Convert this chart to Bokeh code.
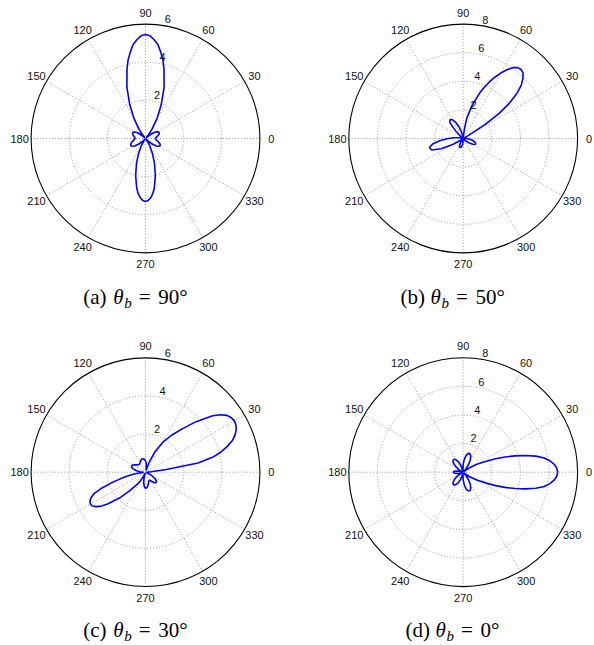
import numpy as np
from bokeh.plotting import figure
from bokeh.layouts import gridplot
from bokeh.models import Range1d
from bokeh.core.properties import value
from bokeh.embed import file_html
from bokeh.resources import INLINE

# ---------------- data ----------------
theta_a = [0, 5, 10, 15, 20, 25, 30, 35, 40, 45, 50, 55, 60, 65, 70, 75, 77.5, 80, 82.5, 85, 87.5,
           90, 92.5, 95, 97.5, 100, 102.5, 105, 110, 115, 120, 125, 130, 135, 140, 145, 150, 155, 160, 165, 170, 175,
           180, 185, 190, 195, 200, 205, 210, 215, 220, 225, 230, 235, 240, 245, 250, 255, 260, 262.5, 265, 267.5,
           270, 272.5, 275, 277.5, 280, 285, 290, 295, 300, 305, 310, 315, 320, 325, 330, 335, 340, 345, 350, 355]
r_a = [0.52, 0.55, 0.62, 0.70, 0.77, 0.78, 0.72, 0.55, 0.30, 0.05, 0.25, 0.60, 1.20, 1.95, 2.85, 3.75, 4.22, 4.60, 4.97, 5.20, 5.39,
       5.45, 5.39, 5.20, 4.97, 4.60, 4.22, 3.75, 2.85, 1.95, 1.20, 0.60, 0.25, 0.05, 0.30, 0.55, 0.68, 0.73, 0.72, 0.67, 0.61, 0.56,
       0.55, 0.58, 0.65, 0.74, 0.82, 0.86, 0.82, 0.68, 0.45, 0.20, 0.02, 0.15, 0.45, 0.85, 1.37, 2.00, 2.65, 2.92, 3.12, 3.25,
       3.30, 3.25, 3.12, 2.92, 2.65, 2.00, 1.37, 0.85, 0.45, 0.15, 0.02, 0.20, 0.45, 0.68, 0.82, 0.86, 0.80, 0.70, 0.60, 0.54]

theta_b = [0, 5, 10, 15, 20, 25, 27.5, 30, 32.5, 35, 37.5, 40, 42.5, 45, 47.5, 50, 52.5, 55, 57.5, 60,
           62.5, 65, 67.5, 70, 75, 80, 82.5, 85, 87.5, 90, 95, 100, 105, 110, 115, 120, 125, 130, 135, 140, 145,
           150, 155, 160, 165, 170, 175, 180, 185, 190, 195, 200, 205, 210, 215, 220, 225, 230, 235,
           240, 245, 250, 255, 260, 265, 270, 275, 280, 290, 300, 310, 315, 320, 325, 330, 335, 340,
           345, 350, 355]
r_b = [0.20, 0.05, 0.04, 0.07, 0.06, 0.03, 0.05, 0.40, 1.80, 3.10, 4.10, 4.90, 5.50, 5.90, 6.20, 6.30, 6.25, 6.05, 5.70, 5.30,
       4.85, 4.40, 3.90, 3.40, 2.40, 1.45, 0.70, 0.20, 0.05, 0.05, 0.10, 0.20, 0.50, 0.90, 1.25, 1.52, 1.62, 1.45, 0.75, 0.25, 0.05,
       0.06, 0.08, 0.06, 0.10, 0.30, 0.65, 1.05, 1.60, 2.15, 2.45, 2.35, 1.70, 0.85, 0.25, 0.05, 0.05, 0.10, 0.25,
       0.45, 0.60, 0.67, 0.65, 0.55, 0.38, 0.20, 0.06, 0.02, 0.04, 0.06, 0.10, 0.20, 0.35, 0.62, 0.85, 0.95, 0.92,
       0.80, 0.62, 0.42]

theta_c = [0, 2.5, 5, 7.5, 10, 12.5, 15, 17.5, 20, 22.5, 25, 27.5, 30, 32.5, 35, 37.5, 40, 45, 50, 55, 60, 65, 70, 75, 80, 85, 90, 95,
           100, 105, 110, 115, 120, 125, 130, 135, 140, 145, 150, 155, 160, 165, 170, 175, 180, 185,
           187.5, 190, 192.5, 195, 197.5, 200, 202.5, 205, 207.5, 210, 212.5, 215, 217.5, 220, 225, 230, 235, 240, 245, 250,
           255, 260, 265, 270, 275, 280, 285, 290, 295, 300, 305, 310, 315, 320, 325, 330, 335, 340,
           345, 350, 355]
r_c = [0.10, 0.15, 0.30, 1.10, 2.80, 3.60, 4.10, 4.50, 4.85, 5.08, 5.25, 5.35, 5.38, 5.33, 5.20, 4.95, 4.60, 3.75, 2.95, 2.35, 1.80, 1.20, 0.50, 0.10, 0.25, 0.45, 0.60, 0.68,
       0.72, 0.72, 0.68, 0.62, 0.57, 0.54, 0.53, 0.55, 0.60, 0.68, 0.76, 0.80, 0.78, 0.68, 0.50, 0.30, 0.12, 0.10,
       0.40, 0.70, 1.00, 1.40, 1.90, 2.45, 2.90, 3.15, 3.28, 3.34, 3.30, 3.15, 2.92, 2.60, 1.90, 1.25, 0.80, 0.50, 0.20, 0.05,
       0.30, 0.55, 0.75, 0.84, 0.82, 0.72, 0.60, 0.50, 0.46, 0.50, 0.60, 0.72, 0.78, 0.76, 0.62, 0.42, 0.22, 0.08,
       0.03, 0.05, 0.08]

theta_d = [0, 2.5, 5, 7.5, 10, 12.5, 15, 17.5, 20, 22.5, 25, 30, 35, 40, 45, 50, 55, 60, 65, 70, 75, 80, 85,
           90, 95, 100, 105, 110, 115, 120, 125, 130, 135, 140, 145, 150, 155, 160, 165, 170, 175,
           180, 185, 190, 195, 200, 205, 210, 215, 220, 225, 230, 235, 240, 245, 250, 255, 260, 265,
           270, 275, 280, 285, 290, 295, 300, 305, 310, 315, 320, 325, 330, 335, 337.5, 340, 342.5, 345, 347.5,
           350, 352.5, 355, 357.5]
r_d = [6.61, 6.55, 6.38, 6.12, 5.75, 5.20, 4.50, 3.80, 3.10, 2.45, 1.85, 1.10, 0.55, 0.15, 0.05, 0.30, 0.65, 1.00, 1.25, 1.38, 1.36, 1.20, 0.90,
       0.55, 0.20, 0.02, 0.25, 0.55, 0.82, 1.00, 1.10, 1.10, 1.00, 0.80, 0.55, 0.30, 0.08, 0.10, 0.30, 0.50, 0.65,
       0.70, 0.65, 0.50, 0.30, 0.10, 0.08, 0.30, 0.55, 0.80, 1.00, 1.10, 1.10, 1.00, 0.82, 0.55, 0.25, 0.02, 0.20,
       0.55, 0.90, 1.20, 1.36, 1.38, 1.25, 1.00, 0.65, 0.30, 0.05, 0.15, 0.55, 1.10, 1.85, 2.45, 3.10, 3.80, 4.50, 5.20,
       5.75, 6.12, 6.38, 6.55]

rmax_values = [6, 8, 6, 8]
ring_ticks = {6: [2, 4, 6], 8: [2, 4, 6, 8]}
angle_ticks = [0, 30, 60, 90, 120, 150, 180, 210, 240, 270, 300, 330]
spoke_angles = [0, 30, 60, 90, 120, 150]
panel_letters = ["(a)", "(b)", "(c)", "(d)"]
beam_angles = ["90°", "50°", "30°", "0°"]

# ---------------- layout ----------------
R = 114.4                 # pixels per normalised radius
W = [305, 287]            # column widths
H = [338, 306]            # row heights
CX = [145.0, 157.7]       # circle centre inside each column (px from left)
CY = [138.0, 133.7]       # circle centre inside each row (px from top)
CAP_LEFT = [-62.3, -62.7, -62.3, -57.7]
CAP_MID = [-158.0, -158.0, -157.5, -157.5]     # vertical middle of caption, px below centre
CAP_PARTS = [0.0, 30.0, 41.0, 55.5, 75.0]      # px offsets of caption pieces

SANS = value("Liberation Sans")
SERIF = value("Liberation Serif")
GRID_COLOR = "#9a9a9a"


def make_panel(idx, theta, rad):
    col, row = idx % 2, idx // 2
    w, h, cx, cy = W[col], H[row], CX[col], CY[row]
    rmax = rmax_values[idx]
    p = figure(width=w, height=h,
               x_range=Range1d(-cx / R, (w - cx) / R),
               y_range=Range1d(-(h - cy) / R, cy / R),
               output_backend="svg", toolbar_location=None,
               x_axis_type=None, y_axis_type=None, min_border=0)
    p.outline_line_color = None
    p.background_fill_color = "white"
    p.border_fill_color = "white"

    # spokes
    sa = np.deg2rad(np.array(spoke_angles, dtype=float))
    p.segment(x0=-np.cos(sa), y0=-np.sin(sa), x1=np.cos(sa), y1=np.sin(sa),
              line_color=GRID_COLOR, line_width=1, line_dash="1 2")
    # inner rings
    rings = [v / rmax for v in ring_ticks[rmax][:-1]]
    p.circle(x=[0] * len(rings), y=[0] * len(rings), radius=rings,
             fill_color=None, line_color=GRID_COLOR, line_width=1, line_dash="1 2")
    # outer circle
    p.circle(x=[0], y=[0], radius=[1.0], fill_color=None, line_color="black", line_width=1.1)

    # data curve
    th = np.deg2rad(np.array(list(theta) + [theta[0]], dtype=float))
    rr = np.array(list(rad) + [rad[0]], dtype=float) / rmax
    p.line(rr * np.cos(th), rr * np.sin(th), line_color="#0000ff", line_width=1.6)

    # angle labels
    at = np.deg2rad(np.array(angle_ticks, dtype=float))
    p.text(x=1.10 * np.cos(at), y=1.10 * np.sin(at), text=[str(a) for a in angle_ticks],
           text_font=SANS, text_font_size="11px", text_align="center",
           text_baseline="middle", text_color="#111111")

    # radial labels
    ticks = ring_ticks[rmax]
    rinc = ticks[1] - ticks[0]
    rl = np.array([(t + rinc / 20) / rmax for t in ticks])
    a82 = np.deg2rad(82)
    p.text(x=rl * np.cos(a82), y=rl * np.sin(a82), text=[str(t) for t in ticks],
           text_font=SANS, text_font_size="11px", text_align="left",
           text_baseline="bottom", x_offset=3, text_color="#111111")

    # caption
    x0 = CAP_LEFT[idx] / R
    ym = CAP_MID[idx] / R
    off = [c / R for c in CAP_PARTS]
    common = dict(text_font=SERIF, text_align="left", text_baseline="middle", text_color="black")
    p.text(x=[x0 + off[0]], y=[ym], text=[panel_letters[idx]], text_font_size="21px", **common)
    p.text(x=[x0 + off[1]], y=[ym], text=["θ"], text_font_style="italic", text_font_size="21px", **common)
    p.text(x=[x0 + off[2]], y=[ym - 6 / R], text=["b"], text_font_style="italic", text_font_size="15px", **common)
    p.text(x=[x0 + off[3]], y=[ym], text=["="], text_font_size="21px", **common)
    p.text(x=[x0 + off[4]], y=[ym], text=[beam_angles[idx]], text_font_size="21px", **common)
    return p


panels = [make_panel(0, theta_a, r_a), make_panel(1, theta_b, r_b),
          make_panel(2, theta_c, r_c), make_panel(3, theta_d, r_d)]

grid = gridplot([[panels[0], panels[1]], [panels[2], panels[3]]], toolbar_location=None)

open("out.html", "w").write(file_html(grid, INLINE))
